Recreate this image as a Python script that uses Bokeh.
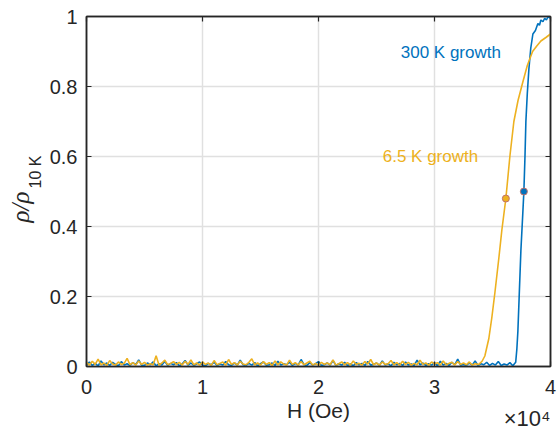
import numpy as np
from bokeh.plotting import figure
from bokeh.models import Range1d, FixedTicker, LinearAxis, Label, Title, CustomJSTickFormatter
from bokeh.embed import file_html
from bokeh.resources import INLINE

# ---------------- data ----------------
# field sweep grid (Oe) for the flat, noisy part of each curve
blue_H_base = np.arange(0, 36751, 250)
blue_base = [
    0.004, 0.013, 0.003, 0.009, 0.002, 0.016, 0.005, 0.010, 0.003, 0.012,
    0.006, 0.002, 0.014, 0.004, 0.008, 0.003, 0.011, 0.005, 0.019, 0.004,
    0.003, 0.010, 0.005, 0.013, 0.002, 0.008, 0.004, 0.015, 0.003, 0.009,
    0.005, 0.011, 0.002, 0.007, 0.017, 0.004, 0.010, 0.003, 0.008, 0.013,
    0.004, 0.002, 0.009, 0.005, 0.012, 0.003, 0.008, 0.004, 0.014, 0.005,
    0.003, 0.010, 0.004, 0.018, 0.005, 0.003, 0.009, 0.004, 0.011, 0.002,
    0.008, 0.013, 0.004, 0.005, 0.010, 0.003, 0.015, 0.004, 0.008, 0.005,
    0.012, 0.003, 0.009, 0.004, 0.020, 0.005, 0.003, 0.011, 0.004, 0.008,
    0.014, 0.003, 0.005, 0.010, 0.004, 0.017, 0.003, 0.008, 0.004, 0.012,
    0.003, 0.007, 0.002, 0.011, 0.005, 0.009, 0.003, 0.014, 0.004, 0.006,
    0.010, 0.003, 0.016, 0.004, 0.008, 0.002, 0.012, 0.005, 0.009, 0.003,
    0.013, 0.004, 0.007, 0.003, 0.018, 0.005, 0.010, 0.003, 0.008, 0.004,
    0.011, 0.002, 0.015, 0.004, 0.009, 0.003, 0.012, 0.005, 0.021, 0.004,
    0.006, 0.003, 0.010, 0.004, 0.016, 0.003, 0.008, 0.005, 0.012, 0.003,
    0.009, 0.004, 0.014, 0.003, 0.007, 0.004, 0.011, 0.002,
]
blue_H_rise = [37000, 37100, 37187, 37300, 37446, 37600, 37705, 37800, 37878,
               38000, 38137, 38300, 38482, 38700, 38913, 39050, 39172, 39350,
               39500, 39650, 39800, 39950]
blue_rise = [0.012, 0.05, 0.10, 0.20, 0.33, 0.43, 0.50, 0.60, 0.70,
             0.78, 0.85, 0.91, 0.95, 0.96, 0.98, 0.975, 0.99, 0.985,
             0.995, 0.99, 1.0, 0.995]

orange_H_base = np.arange(0, 33751, 250)
orange_base = [
    0.012, 0.004, 0.015, 0.006, 0.021, 0.005, 0.010, 0.003, 0.017, 0.007,
    0.004, 0.013, 0.006, 0.009, 0.023, 0.005, 0.011, 0.004, 0.016, 0.006,
    0.012, 0.004, 0.008, 0.005, 0.031, 0.004, 0.010, 0.018, 0.005, 0.009,
    0.014, 0.006, 0.012, 0.004, 0.015, 0.006, 0.019, 0.005, 0.010, 0.004,
    0.013, 0.006, 0.010, 0.003, 0.017, 0.005, 0.009, 0.013, 0.004, 0.020,
    0.006, 0.011, 0.004, 0.015, 0.007, 0.005, 0.012, 0.022, 0.005, 0.010,
    0.004, 0.014, 0.006, 0.011, 0.003, 0.016, 0.005, 0.013, 0.007, 0.004,
    0.018, 0.006, 0.011, 0.004, 0.014, 0.005, 0.010, 0.015, 0.004, 0.009,
    0.003, 0.012, 0.006, 0.010, 0.005, 0.019, 0.004, 0.008, 0.013, 0.005,
    0.011, 0.004, 0.016, 0.006, 0.009, 0.004, 0.014, 0.007, 0.020, 0.005,
    0.010, 0.004, 0.013, 0.006, 0.008, 0.017, 0.005, 0.011, 0.004, 0.015,
    0.006, 0.012, 0.004, 0.009, 0.005, 0.018, 0.006, 0.010, 0.004, 0.013,
    0.007, 0.011, 0.004, 0.016, 0.005, 0.009, 0.012, 0.004, 0.014, 0.006,
    0.010, 0.005, 0.013, 0.004, 0.008, 0.006,
]
orange_H_rise = [33822, 34100, 34340, 34685, 34944, 35203, 35548, 35807, 36152,
                 36497, 36842, 37200, 37593, 38000, 38455, 38800, 39172, 39600, 40000]
orange_rise = [0.006, 0.015, 0.03, 0.08, 0.14, 0.21, 0.31, 0.39, 0.48,
               0.60, 0.70, 0.76, 0.81, 0.86, 0.90, 0.915, 0.93, 0.94, 0.95]

# midpoint markers
marker_H = [36152, 37705]
marker_val = [0.48, 0.50]
marker_colors = ["#EDB120", "#0072BD"]

x_ticks = [0, 10000, 20000, 30000, 40000]
y_ticks = [0, 0.2, 0.4, 0.6, 0.8, 1.0]

BLUE = "#0072BD"
ORANGE = "#EDB120"
DARK = "#262626"

# ---------------- figure ----------------
p = figure(frame_width=464, frame_height=350,
           min_border_left=86, min_border_right=7, min_border_top=16, min_border_bottom=64,
           x_range=Range1d(0, 40000), y_range=Range1d(0, 1),
           output_backend="svg", toolbar_location=None)
p.background_fill_color = "white"
p.border_fill_color = "white"
p.outline_line_color = DARK
p.outline_line_width = 1.5

xt = FixedTicker(ticks=x_ticks)
yt = FixedTicker(ticks=y_ticks)

xa = p.xaxis[0]
ya = p.yaxis[0]
xa.ticker = xt
ya.ticker = yt
xa.formatter = CustomJSTickFormatter(code="return (tick/10000).toFixed(0);")
ya.formatter = CustomJSTickFormatter(code="return String(Math.round(tick*10)/10);")
for ax in (xa, ya):
    ax.axis_line_color = DARK
    ax.axis_line_width = 1.5
    ax.major_tick_in = 5
    ax.major_tick_out = 0
    ax.major_tick_line_color = DARK
    ax.major_tick_line_width = 1.2
    ax.minor_tick_line_color = None
    ax.major_label_text_font = "Liberation Sans"
    ax.major_label_text_font_size = "20px"
    ax.major_label_text_color = DARK
xa.major_label_standoff = 13
ya.major_label_standoff = 9

xa.axis_label = "H (Oe)"
xa.axis_label_text_font = "Liberation Sans"
xa.axis_label_text_font_size = "21px"
xa.axis_label_text_font_style = "normal"
xa.axis_label_text_color = DARK
xa.axis_label_standoff = 2

blank = CustomJSTickFormatter(code="return '';")
for loc, tk in (("above", xt), ("right", yt)):
    ax = LinearAxis(ticker=tk, formatter=blank, major_label_text_font_size="1px",
                    major_label_standoff=0,
                    axis_line_color=DARK, axis_line_width=1.5, major_tick_in=5,
                    major_tick_out=0, major_tick_line_color=DARK, major_tick_line_width=1.2,
                    minor_tick_line_color=None)
    p.add_layout(ax, loc)

p.xgrid.ticker = xt
p.ygrid.ticker = yt
p.xgrid.grid_line_color = "#e0e0e0"
p.ygrid.grid_line_color = "#e0e0e0"
p.xgrid.grid_line_width = 1.5
p.ygrid.grid_line_width = 1.5

# ---------------- data lines ----------------
bx = list(blue_H_base) + blue_H_rise
by = blue_base + blue_rise
ox = list(orange_H_base) + orange_H_rise
oy = orange_base + orange_rise
p.line(bx, by, line_color=BLUE, line_width=1.6)
p.line(ox, oy, line_color=ORANGE, line_width=1.6)
p.scatter(marker_H, marker_val, size=7, fill_color=marker_colors, line_color="#c0706a",
          line_width=1)

# ---------------- texts ----------------
p.add_layout(Label(x=27092, y=0.897, text="300 K growth", text_color=BLUE,
                   text_font="Liberation Sans", text_font_size="17px",
                   text_align="left", text_baseline="middle"))
p.add_layout(Label(x=25539, y=0.6, text="6.5 K growth", text_color=ORANGE,
                   text_font="Liberation Sans", text_font_size="17px",
                   text_align="left", text_baseline="middle"))

# y label: rho/rho with subscript "10 K", built from two side titles
p.add_layout(Title(text="10 K", align="left", offset=178, standoff=6,
                   vertical_align="bottom", text_font="Liberation Sans",
                   text_font_size="16px", text_font_style="normal", text_color=DARK), "left")
p.add_layout(Title(text="ρ/ρ", align="left", offset=144, standoff=-24,
                   vertical_align="bottom", text_font="Liberation Serif",
                   text_font_size="25px", text_font_style="italic", text_color=DARK), "left")

# x10^4 exponent label under the right end of the x axis
p.add_layout(Title(text="×10⁴", align="right", offset=0, standoff=-37,
                   vertical_align="top", text_font="Liberation Sans",
                   text_font_size="22px", text_font_style="normal", text_color=DARK), "below")

open("out.html", "w").write(file_html(p, INLINE))
